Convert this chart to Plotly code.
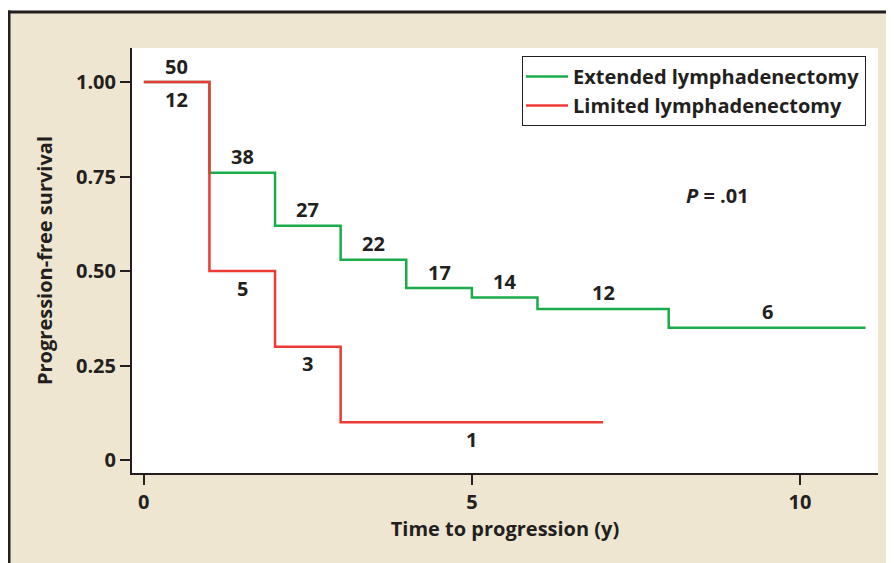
import plotly.graph_objects as go

# Data
ext_time = [0, 1, 2, 3, 4, 5, 6, 8, 11]
ext_surv = [1.00, 0.76, 0.62, 0.53, 0.455, 0.43, 0.40, 0.35, 0.35]
ext_risk = ["50", "38", "27", "22", "17", "14", "12", "6"]

lim_time = [0, 1, 2, 3, 7]
lim_surv = [1.00, 0.50, 0.30, 0.10, 0.10]
lim_risk = ["12", "5", "3", "1"]

x_ticks = [0, 5, 10]
y_ticks = [0, 0.25, 0.5, 0.75, 1.0]
y_ticklabels = ["0", "0.25", "0.50", "0.75", "1.00"]

GREEN = "#1aab4b"
RED = "#ec3b35"
BEIGE = "#eee6d0"
DARK = "#231f20"
FONT = "Open Sans"
FS = 20
W = "bold"

def f(size=FS):
    return dict(family=FONT, size=size, color=DARK, weight=W)

fig = go.Figure()
fig.add_trace(go.Scatter(x=ext_time, y=ext_surv, mode="lines", line=dict(shape="hv", color=GREEN, width=2.5),
                         name="Extended lymphadenectomy"))
fig.add_trace(go.Scatter(x=lim_time, y=lim_surv, mode="lines", line=dict(shape="hv", color=RED, width=2.5),
                         name="Limited lymphadenectomy"))

ann = []
for i, lab in enumerate(ext_risk):
    xm = (ext_time[i] + ext_time[i + 1]) / 2
    ann.append(dict(x=xm, y=ext_surv[i], text=lab, showarrow=False, yshift=16, font=f()))
for i, lab in enumerate(lim_risk):
    xm = (lim_time[i] + lim_time[i + 1]) / 2
    ann.append(dict(x=xm, y=lim_surv[i], text=lab, showarrow=False, yshift=-17, font=f()))
ann.append(dict(x=8.75, y=0.70, text="<i>P</i> = .01", showarrow=False, font=f()))

# screen coords (page has 8px body margin): plot area x 132..878, y 48..473
def px(xp):
    return (xp - 132) / 746.0

def py(yp):
    return (473 - yp) / 425.0

shapes = [
    dict(type="rect", xref="paper", yref="paper", x0=px(0), x1=px(910), y0=py(10.5), y1=py(0),
         fillcolor="white", line=dict(width=0), layer="below"),
    dict(type="line", xref="paper", yref="paper", x0=px(8), x1=px(910), y0=py(12), y1=py(12),
         line=dict(color=DARK, width=3)),
    dict(type="line", xref="paper", yref="paper", x0=px(9), x1=px(9), y0=py(10.5), y1=py(580),
         line=dict(color=DARK, width=3)),
]

fig.update_layout(
    width=894, height=563,
    margin=dict(l=124, r=24, t=40, b=98),
    paper_bgcolor=BEIGE, plot_bgcolor="white",
    font=f(),
    showlegend=True,
    legend=dict(x=px(522), y=py(56), xanchor="left", yanchor="top", bgcolor="white",
                bordercolor=DARK, borderwidth=1, font=f(), tracegroupgap=0, itemwidth=42,
                entrywidth=330, indentation=-2),
    annotations=ann,
    shapes=shapes,
    xaxis=dict(range=[-0.18, 11.19], tickvals=x_ticks, ticks="outside", ticklen=10, tickwidth=1.5,
               tickcolor=DARK, showline=True, linecolor=DARK, linewidth=2, showgrid=False, zeroline=False,
               title=dict(text="Time to progression (y)", standoff=8, font=f()),
               tickfont=f()),
    yaxis=dict(range=[-0.034, 1.09], tickvals=y_ticks, ticktext=y_ticklabels, ticks="outside", ticklen=10,
               tickwidth=1.5, tickcolor=DARK, showline=True, linecolor=DARK, linewidth=2, showgrid=False,
               zeroline=False,
               title=dict(text="Progression-free survival", standoff=18, font=f()),
               tickfont=f()),
)

fig.write_html("out.html")
